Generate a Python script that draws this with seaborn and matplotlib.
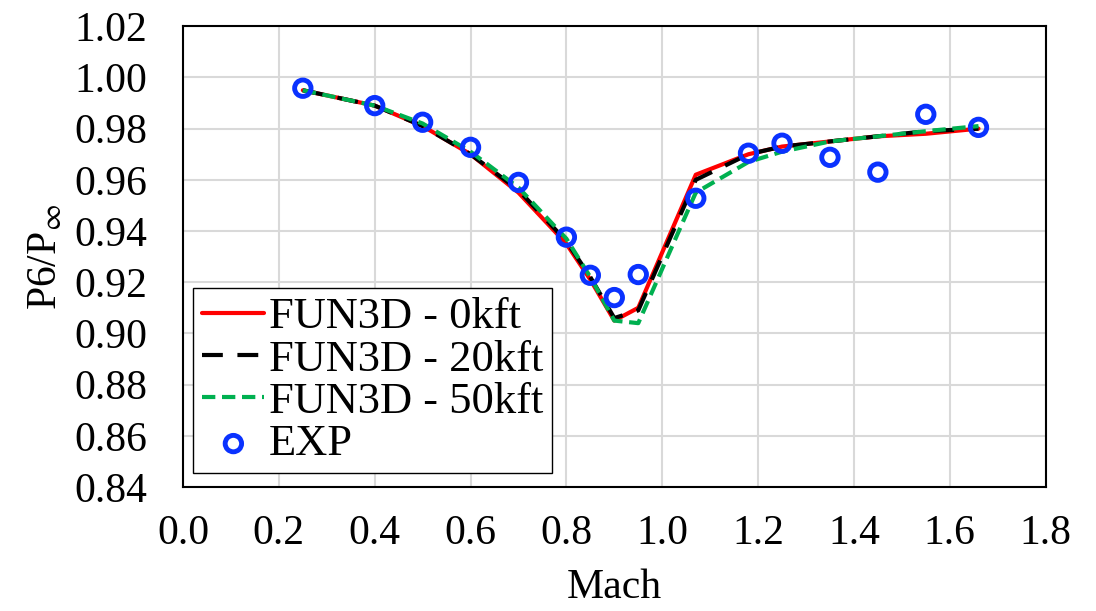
import numpy as np
import pandas as pd
import matplotlib
matplotlib.use("Agg")
import matplotlib.pyplot as plt
import seaborn as sns

# Mach numbers shared by the CFD runs and the test points
mach = [0.25, 0.40, 0.50, 0.60, 0.70, 0.80, 0.85, 0.90, 0.95, 1.07, 1.18, 1.25, 1.35, 1.45, 1.55, 1.66]

# P6/Pinf
fun3d_0kft = [0.995, 0.989, 0.981, 0.970, 0.955, 0.935, 0.921, 0.905, 0.910, 0.962, 0.970, 0.973, 0.975, 0.977, 0.978, 0.980]
fun3d_20kft = [0.995, 0.989, 0.981, 0.970, 0.956, 0.936, 0.922, 0.906, 0.909, 0.960, 0.970, 0.973, 0.975, 0.977, 0.979, 0.980]
fun3d_50kft = [0.995, 0.989, 0.982, 0.971, 0.957, 0.937, 0.922, 0.905, 0.904, 0.955, 0.967, 0.971, 0.975, 0.977, 0.979, 0.981]
exp_vals = [0.9958, 0.989, 0.9825, 0.9727, 0.959, 0.9376, 0.9227, 0.914, 0.923, 0.9528, 0.9704, 0.9743, 0.9688, 0.963, 0.9856, 0.9805]

labels = ["FUN3D - 0kft", "FUN3D - 20kft", "FUN3D - 50kft"]

cfd = pd.DataFrame({
    "Mach": mach * 3,
    "P": fun3d_0kft + fun3d_20kft + fun3d_50kft,
    "Case": [labels[0]] * len(mach) + [labels[1]] * len(mach) + [labels[2]] * len(mach),
})
exp = pd.DataFrame({"Mach": mach, "P": exp_vals})

sns.set_style("whitegrid", {"grid.color": "#d9d9d9", "axes.edgecolor": "black",
                            "text.color": "black", "axes.labelcolor": "black",
                            "xtick.color": "black", "ytick.color": "black"})
plt.rcParams["font.family"] = ["Liberation Serif", "DejaVu Serif"]
plt.rcParams["mathtext.fontset"] = "stix"

fig = plt.figure(figsize=(10.96, 6.11), dpi=100)
ax = fig.add_axes([0.167, 0.203, 0.787, 0.754])

sns.lineplot(data=cfd, x="Mach", y="P", hue="Case", style="Case",
             palette={labels[0]: "#ff0000", labels[1]: "#000000", labels[2]: "#00b050"},
             dashes={labels[0]: "", labels[1]: (5, 3.5), labels[2]: (3.2, 1.6)},
             linewidth=3, ax=ax, sort=False)
sns.scatterplot(data=exp, x="Mach", y="P", ax=ax, s=140, facecolors="none",
                edgecolor="#0a32ff", linewidth=3.5, label="EXP", zorder=5)

ax.set_xlim(0, 1.8)
ax.set_ylim(0.84, 1.02)
ax.set_xticks(np.arange(0, 1.81, 0.2))
ax.set_yticks(np.arange(0.84, 1.021, 0.02))
ax.set_xticklabels([f"{v:.1f}" for v in np.arange(0, 1.81, 0.2)])
ax.set_yticklabels([f"{v:.2f}" for v in np.arange(0.84, 1.021, 0.02)])
ax.tick_params(labelsize=30, length=0)
ax.tick_params(axis="x", pad=20)
ax.tick_params(axis="y", pad=26)
ax.grid(True, color="#d9d9d9", linewidth=1.5)
for sp in ax.spines.values():
    sp.set_color("black")
    sp.set_linewidth(1.5)

ax.set_xlabel("Mach", fontsize=30, labelpad=11)
ax.set_ylabel(r"P6/P$_{\infty}$", fontsize=30, labelpad=6)

leg = ax.legend(loc="lower left", bbox_to_anchor=(0.012, 0.03), borderaxespad=0,
                fontsize=32, frameon=True, fancybox=False, edgecolor="black",
                framealpha=1, handlelength=1.4, handletextpad=0.1,
                labelspacing=0.05, borderpad=0.2)
leg.get_frame().set_linewidth(1)

fig.savefig("out.png", dpi=100)
